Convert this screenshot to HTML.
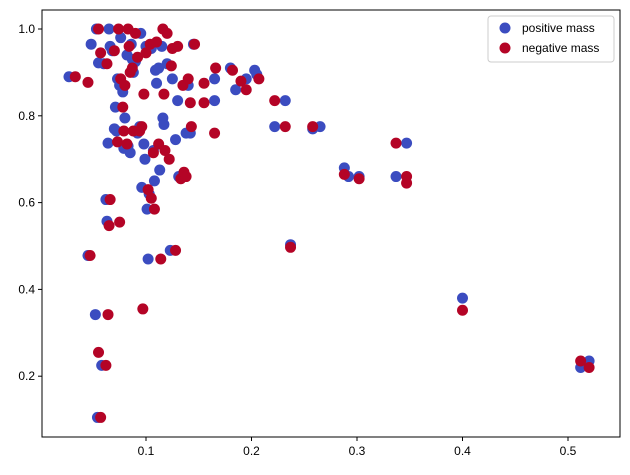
<!DOCTYPE html>
<html><head><meta charset="utf-8"><style>
body{margin:0;background:#fff;font-family:"Liberation Sans",sans-serif}
</style></head><body>
<svg id="chart" width="630" height="470" font-family="Liberation Sans, sans-serif">
<rect x="0" y="0" width="630" height="470" fill="#fff"/>
<g id="marks"></g>
<g id="axes"></g>
</svg>
<script>
const posX=[0.027,0.045,0.048,0.052,0.053,0.054,0.055,0.058,0.06,0.062,0.063,0.064,0.065,0.066,0.068,0.07,0.071,0.072,0.073,0.075,0.076,0.078,0.079,0.08,0.082,0.083,0.085,0.086,0.087,0.088,0.09,0.092,0.094,0.095,0.096,0.098,0.099,0.1,0.101,0.102,0.103,0.105,0.107,0.108,0.109,0.11,0.112,0.113,0.115,0.116,0.117,0.12,0.123,0.125,0.128,0.13,0.131,0.135,0.138,0.14,0.142,0.145,0.165,0.165,0.18,0.185,0.195,0.203,0.205,0.222,0.232,0.237,0.258,0.265,0.288,0.292,0.302,0.337,0.347,0.4,0.512,0.52];
const posY=[0.89,0.478,0.965,0.342,1.0,0.105,0.922,0.225,0.92,0.607,0.557,0.737,1.0,0.96,0.95,0.77,0.82,0.765,0.885,0.87,0.98,0.855,0.725,0.795,0.94,0.73,0.715,0.965,0.93,0.9,0.925,0.76,0.775,0.99,0.635,0.735,0.70,0.96,0.585,0.47,0.62,0.955,0.72,0.65,0.905,0.875,0.91,0.675,0.96,0.795,0.78,0.92,0.49,0.885,0.745,0.835,0.66,0.665,0.76,0.87,0.76,0.965,0.835,0.885,0.91,0.86,0.885,0.905,0.895,0.775,0.835,0.503,0.77,0.775,0.68,0.66,0.66,0.66,0.737,0.38,0.22,0.235];
const negX=[0.033,0.047,0.045,0.055,0.055,0.057,0.057,0.062,0.063,0.064,0.065,0.066,0.07,0.073,0.074,0.075,0.076,0.078,0.079,0.08,0.082,0.083,0.084,0.085,0.087,0.088,0.09,0.092,0.094,0.096,0.097,0.098,0.1,0.102,0.104,0.105,0.107,0.108,0.11,0.112,0.114,0.116,0.117,0.118,0.12,0.122,0.124,0.125,0.128,0.13,0.133,0.135,0.136,0.138,0.14,0.142,0.143,0.146,0.155,0.155,0.165,0.166,0.182,0.19,0.195,0.207,0.222,0.232,0.237,0.258,0.288,0.302,0.337,0.347,0.347,0.4,0.512,0.52];
const negY=[0.89,0.478,0.877,0.255,1.0,0.945,0.105,0.225,0.92,0.342,0.547,0.607,0.95,0.74,1.0,0.555,0.885,0.82,0.765,0.87,0.735,1.0,0.96,0.9,0.91,0.765,0.99,0.935,0.765,0.775,0.355,0.85,0.945,0.63,0.965,0.61,0.715,0.585,0.97,0.735,0.47,1.0,0.85,0.72,0.99,0.70,0.915,0.955,0.49,0.96,0.655,0.87,0.67,0.66,0.885,0.83,0.775,0.965,0.83,0.875,0.76,0.91,0.905,0.88,0.86,0.885,0.835,0.775,0.497,0.775,0.665,0.655,0.737,0.66,0.645,0.352,0.235,0.22];
const xTicks=[0.1,0.2,0.3,0.4,0.5];
const yTicks=[0.2,0.4,0.6,0.8,1.0];
const L=42,R=620,T=10,B=437;
const sx=v=>40.5+v*1055;
const sy=v=>463-v*434;
const NS='http://www.w3.org/2000/svg';
const marks=document.getElementById('marks'),axes=document.getElementById('axes');
function mk(tag,attrs,parent){const e=document.createElementNS(NS,tag);for(const k in attrs)e.setAttribute(k,attrs[k]);parent.appendChild(e);return e;}
posX.forEach((x,i)=>{const c=mk('circle',{cx:sx(x),cy:sy(posY[i]),r:5.5,fill:'#3b4cc0'},marks);

});
negX.forEach((x,i)=>{const c=mk('circle',{cx:sx(x),cy:sy(negY[i]),r:5.5,fill:'#b40426'},marks);

});
const f=mk('rect',{x:L,y:T,width:R-L,height:B-T,fill:'none',stroke:'#000','stroke-width':1},axes);


xTicks.forEach(t=>{const x=sx(t);mk('line',{x1:x,x2:x,y1:B,y2:B+4,stroke:'#000'},axes);
const tx=mk('text',{x:x,y:B+18,'text-anchor':'middle','font-size':12},axes);tx.textContent=t.toFixed(1);

});
yTicks.forEach(t=>{const y=sy(t);mk('line',{x1:L-4,x2:L,y1:y,y2:y,stroke:'#000'},axes);
const tx=mk('text',{x:L-7,y:y+4,'text-anchor':'end','font-size':12},axes);tx.textContent=t.toFixed(1);

});
const lg=mk('g',{},axes);


mk('rect',{x:488,y:16,width:126,height:46,rx:3,fill:'#fff','fill-opacity':0.8,stroke:'#ccc'},lg);
mk('circle',{cx:505,cy:28,r:5.5,fill:'#3b4cc0'},lg);
mk('circle',{cx:505,cy:48,r:5.5,fill:'#b40426'},lg);
const t1=mk('text',{x:522,y:32,'font-size':12},lg);t1.textContent='positive mass';


const t2=mk('text',{x:522,y:52,'font-size':12},lg);t2.textContent='negative mass';


</script>
</body></html>
